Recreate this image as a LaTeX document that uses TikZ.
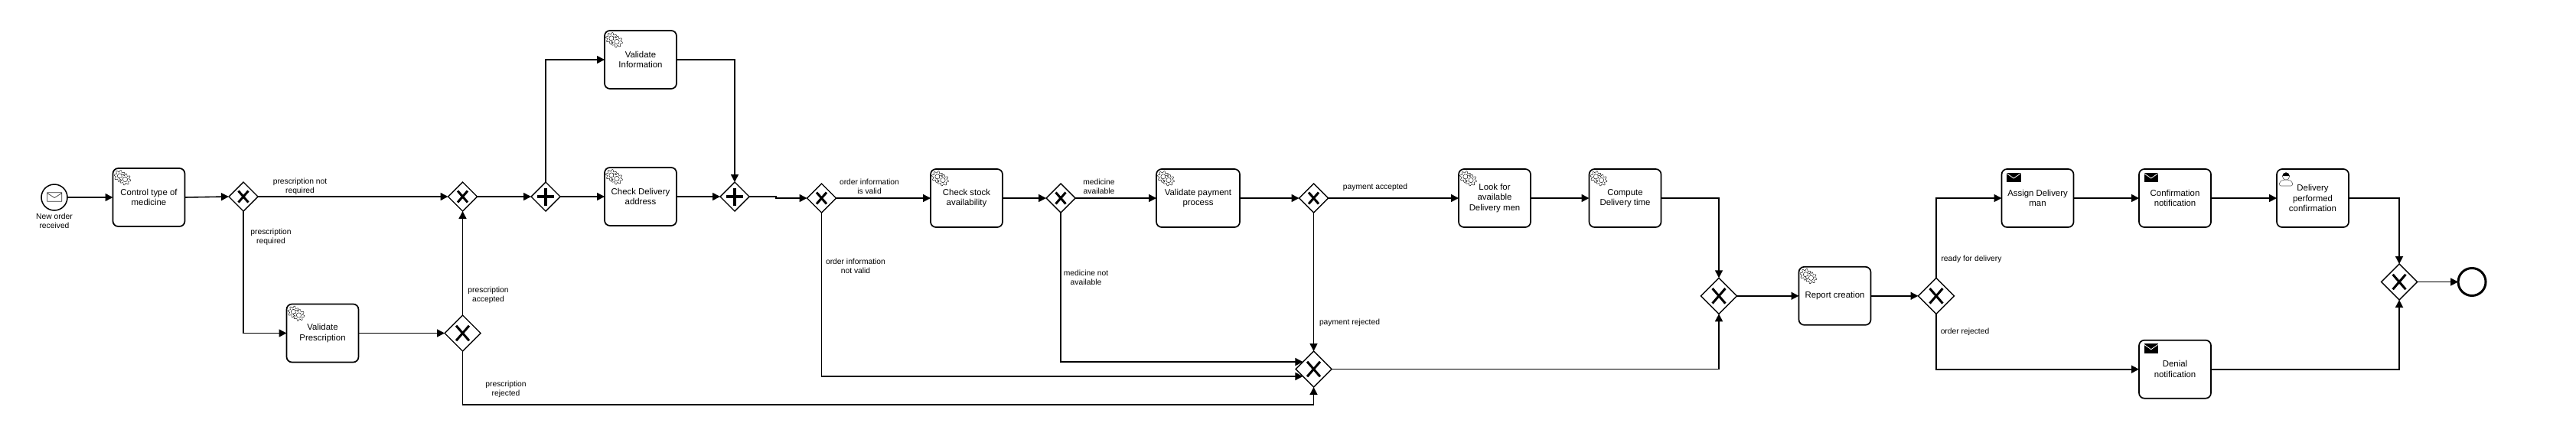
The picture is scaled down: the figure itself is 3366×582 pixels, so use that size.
\documentclass[tikz,border=0pt]{standalone}
\usepackage{fontspec}
\setmainfont{Liberation Sans}
\usetikzlibrary{positioning,arrows.meta,shapes.geometric}

\begin{document}
\begin{tikzpicture}[x=1pt,y=-1pt,
    task/.style={rectangle,draw,rounded corners=7pt,line width=1.7pt,inner sep=0pt,outer sep=0pt,minimum width=94pt,minimum height=76pt,align=center,font=\fontsize{11.4}{13.6}\selectfont},
    gate/.style={diamond,draw,line width=1.4pt,fill=white,inner sep=0pt,outer sep=0pt,minimum width=38pt,minimum height=38pt},
    biggate/.style={gate,minimum width=47pt,minimum height=47pt},
    event/.style={circle,draw,inner sep=0pt,outer sep=0pt,minimum size=34pt,line width=1.5pt},
    lbl/.style={align=center,inner sep=0pt,font=\fontsize{10.3}{12}\selectfont},
    flow/.style={-{Triangle[length=10pt,width=10pt]},line width=1.6pt},
    xmark/.pic={\draw[line width=3pt] (-6.5,-7.5) -- (6.5,7.5) (-6.5,7.5) -- (6.5,-7.5);},
    plusmark/.pic={\draw[line width=4pt] (-11,0) -- (11,0) (0,-11.5) -- (0,11.5);},
    wheel/.pic={\draw[line width=0.45pt,fill=white] plot[domain=0:360,samples=97,smooth] ({\x}:{6.3+1.3*sin(8*\x)}) -- cycle;
        \draw[line width=0.45pt] (0,0) circle (3.2);},
    gears/.pic={\pic at (9,10) {wheel}; \pic at (16,14.5) {wheel};},
    mailblack/.pic={\fill (6.5,4.7) rectangle (25,17.3);
        \draw[white,line width=0.8pt] (6.5,5.6) -- (15.7,12) -- (25,5.6);},
    person/.pic={\draw[black!60,line width=0.6pt,rounded corners=2pt] (3.5,22) -- (3.5,16.5) -- (9,14) -- (15,14) -- (20.5,16.5) -- (20.5,22) -- cycle;
        \draw[black!70,line width=0.6pt,fill=white] (12,9.5) circle (4.6);
        \fill (7.4,9) arc[start angle=180,end angle=360,x radius=4.6,y radius=4.6] -- cycle;}]

\useasboundingbox (0,0) rectangle (3366,582);

% Premiere partie
\node[event] (start) at (71,258) {};
\node[below=3.5pt of start,lbl] (startlbl) {New order\\received};
\draw[line width=0.7pt,black!80] (61.7,251.7) rectangle (80.7,263.3) (61.7,252.5) -- (71.2,258.5) -- (80.7,252.5);

\node[task] (ctrl) at (194.5,258) {Control type of\\medicine};
\pic at (ctrl.north west) {gears};
\node[gate] (gwtype) at (318,257) {};
\pic at (gwtype) {xmark};
\node[task] (valpre) at (421.5,435.5) {Validate\\Prescription};
\pic at (valpre.north west) {gears};
\node[biggate] (gwpre) at (604.5,435.5) {};
\pic[scale=1.3] at (gwpre) {xmark};
\node[gate] (gwjoin) at (604.5,257) {};
\pic at (gwjoin) {xmark};

% Controles paralleles
\node[gate] (split) at (713,257) {};
\pic at (split) {plusmark};
\node[task] (valinf) at (837,78) {Validate\\Information};
\pic at (valinf.north west) {gears};
\node[task] (chkaddr) at (837,257) {Check Delivery\\address};
\pic at (chkaddr.north west) {gears};
\node[gate] (merge) at (960,257) {};
\pic at (merge) {plusmark};

% Stock et paiement
\node[gate] (gworder) at (1073.5,259) {};
\pic at (gworder) {xmark};
\node[task] (stock) at (1263,259) {Check stock\\availability};
\pic at (stock.north west) {gears};
\node[gate] (gwmed) at (1386,259) {};
\pic at (gwmed) {xmark};
\node[task,minimum width=109pt] (valpay) at (1565.5,259) {Validate payment\\process};
\pic at (valpay.north west) {gears};
\node[gate] (gwpay) at (1716.5,259) {};
\pic at (gwpay) {xmark};
\node[biggate] (gwrej) at (1716.5,482.5) {};
\pic[scale=1.3] at (gwrej) {xmark};
\node[task] (look) at (1953,259) {Look for\\available\\Delivery men};
\pic at (look.north west) {gears};
\node[task] (comp) at (2123.5,259) {Compute\\Delivery time};
\pic at (comp.north west) {gears};

% Rapport et livraison
\node[biggate] (gwrep) at (2246,386.8) {};
\pic[scale=1.3] at (gwrep) {xmark};
\node[task] (report) at (2397.5,386.8) {Report creation};
\pic at (report.north west) {gears};
\node[biggate] (gwdel) at (2530,386.8) {};
\pic[scale=1.3] at (gwdel) {xmark};
\node[task] (assign) at (2662.5,259) {Assign Delivery\\man};
\pic at (assign.north west) {mailblack};
\node[task] (conf) at (2842,259) {Confirmation\\notification};
\pic at (conf.north west) {mailblack};
\node[task] (perf) at (3022,259) {Delivery\\performed\\confirmation};
\pic at (perf.north west) {person};
\node[task] (denial) at (2842,482.7) {Denial\\notification};
\pic at (denial.north west) {mailblack};
\node[biggate] (gwend) at (3135,368.5) {};
\pic[scale=1.3] at (gwend) {xmark};
\node[event,minimum size=36pt,line width=3pt] (stop) at (3230,368.5) {};

% Connexions
\draw[flow] (start.east) -- (ctrl.west);
\draw[flow] (ctrl.east) -- (gwtype.west);
\draw[flow] (gwtype.east) -- (gwjoin.west);
\draw[flow] (gwtype.south) |- (valpre.west);
\draw[flow] (valpre.east) -- (gwpre.west);
\draw[flow] (gwpre.north) -- (gwjoin.south);
\draw[flow] (gwjoin.east) -- (split.west);
\draw[flow] (split.north) |- (valinf.west);
\draw[flow] (split.east) -- (chkaddr.west);
\draw[flow] (valinf.east) -| (merge.north);
\draw[flow] (chkaddr.east) -- (merge.west);
\draw[flow] (merge.east) -- ++(35,0) |- (gworder.west);
\draw[flow] (gworder.east) -- (stock.west);
\draw[flow] (stock.east) -- (gwmed.west);
\draw[flow] (gwmed.east) -- (valpay.west);
\draw[flow] (valpay.east) -- (gwpay.west);
\draw[flow] (gwpay.east) -- (look.west);
\draw[flow] (look.east) -- (comp.west);
\draw[flow] (comp.east) -| (gwrep.north);
\draw[flow] (gwpay.south) -- (gwrej.north);
\draw[flow] (gwmed.south) |- (gwrej.146);
\draw[flow] (gworder.south) |- (gwrej.214);
\draw[flow] (gwpre.south) -- ++(0,70) -| (gwrej.south);
\draw[flow] (gwrej.east) -| (gwrep.south);
\draw[flow] (gwrep.east) -- (report.west);
\draw[flow] (report.east) -- (gwdel.west);
\draw[flow] (gwdel.north) |- (assign.west);
\draw[flow] (gwdel.south) |- (denial.west);
\draw[flow] (assign.east) -- (conf.west);
\draw[flow] (conf.east) -- (perf.west);
\draw[flow] (perf.east) -| (gwend.north);
\draw[flow] (denial.east) -| (gwend.south);
\draw[flow] (gwend.east) -- (stop.west);

% Etiquettes
\node[lbl] (lnotreq) at (392,244) {prescription not\\required};
\node[lbl] (lreq) at (354,310) {prescription\\required};
\node[lbl] (lacc) at (638,386) {prescription\\accepted};
\node[lbl] (lrej) at (661,509) {prescription\\rejected};
\node[lbl] (lvalid) at (1136,244) {order information\\is valid};
\node[lbl] (lnotvalid) at (1118,348) {order information\\not valid};
\node[lbl] (lmed) at (1436,244) {medicine\\available};
\node[lbl] (lnomed) at (1419,363) {medicine not\\available};
\node[lbl] (lpayok) at (1797,245) {payment accepted};
\node[lbl] (lpayrej) at (1763.5,422) {payment rejected};
\node[lbl] (lready) at (2576,339) {ready for delivery};
\node[lbl] (lorderrej) at (2567.5,434) {order rejected};

\end{tikzpicture}
\end{document}
